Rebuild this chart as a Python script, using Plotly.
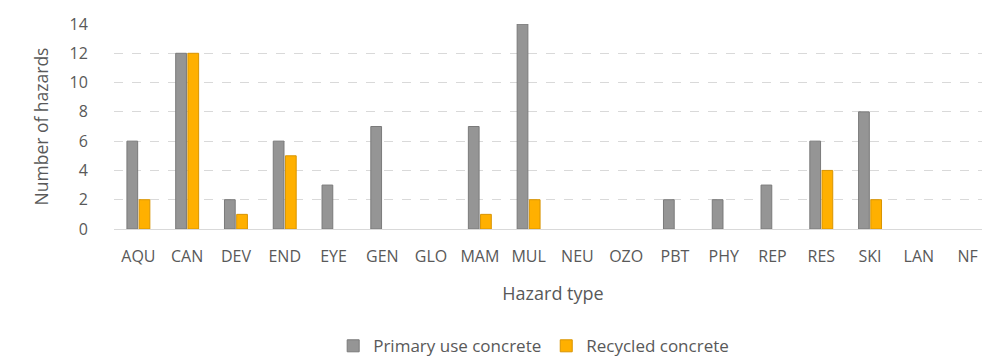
import plotly.graph_objects as go

categories = ["AQU", "CAN", "DEV", "END", "EYE", "GEN", "GLO", "MAM", "MUL",
              "NEU", "OZO", "PBT", "PHY", "REP", "RES", "SKI", "LAN", "NF"]
primary_use = [6, 12, 2, 6, 3, 7, 0, 7, 14, 0, 0, 2, 2, 3, 6, 8, 0, 0]
recycled = [2, 12, 1, 5, 0, 0, 0, 1, 2, 0, 0, 0, 0, 0, 4, 2, 0, 0]
y_ticks = [0, 2, 4, 6, 8, 10, 12, 14]

FONT = "'Open Sans', sans-serif"
TXT = "#595959"
CLEAR = "rgba(0,0,0,0)"

fig = go.Figure()
fig.add_trace(go.Bar(x=categories, y=primary_use, name="Primary use concrete",
                     marker=dict(color="#959595",
                                 line=dict(color="#7a7a7a",
                                           width=[1 if v else 0 for v in primary_use]))))
fig.add_trace(go.Bar(x=categories, y=recycled, name="Recycled concrete",
                     marker=dict(color="#FFB000",
                                 line=dict(color="#D99400",
                                           width=[1 if v else 0 for v in recycled]))))

fig.update_layout(
    width=990, height=362,
    margin=dict(l=106, r=6, t=16, b=131),
    paper_bgcolor="white", plot_bgcolor="white",
    barmode="group", bargap=0.5, bargroupgap=0.12,
    font=dict(family=FONT, color=TXT, size=16),
    showlegend=True,
    legend=dict(orientation="h", x=0.478, xanchor="center", y=-0.572, yanchor="middle",
                font=dict(size=17, color=TXT), itemwidth=30, traceorder="normal"),
    xaxis=dict(title=dict(text="Hazard type", font=dict(size=18, color=TXT), standoff=21),
               automargin=False,
               showgrid=False, showline=True, linecolor="#d9d9d9", linewidth=1,
               ticks="outside", ticklen=13, tickcolor=CLEAR,
               tickfont=dict(size=16, color=TXT)),
    yaxis=dict(title=dict(text="Number of hazards", font=dict(size=17.5, color=TXT), standoff=16),
               automargin=False,
               range=[0, 14], tickvals=y_ticks, showgrid=True, gridcolor="#d9d9d9",
               griddash="dash", gridwidth=1, zeroline=False, showline=False,
               ticks="outside", ticklen=22, tickcolor=CLEAR,
               tickfont=dict(size=16, color=TXT)),
)

fig.write_html("out.html")
